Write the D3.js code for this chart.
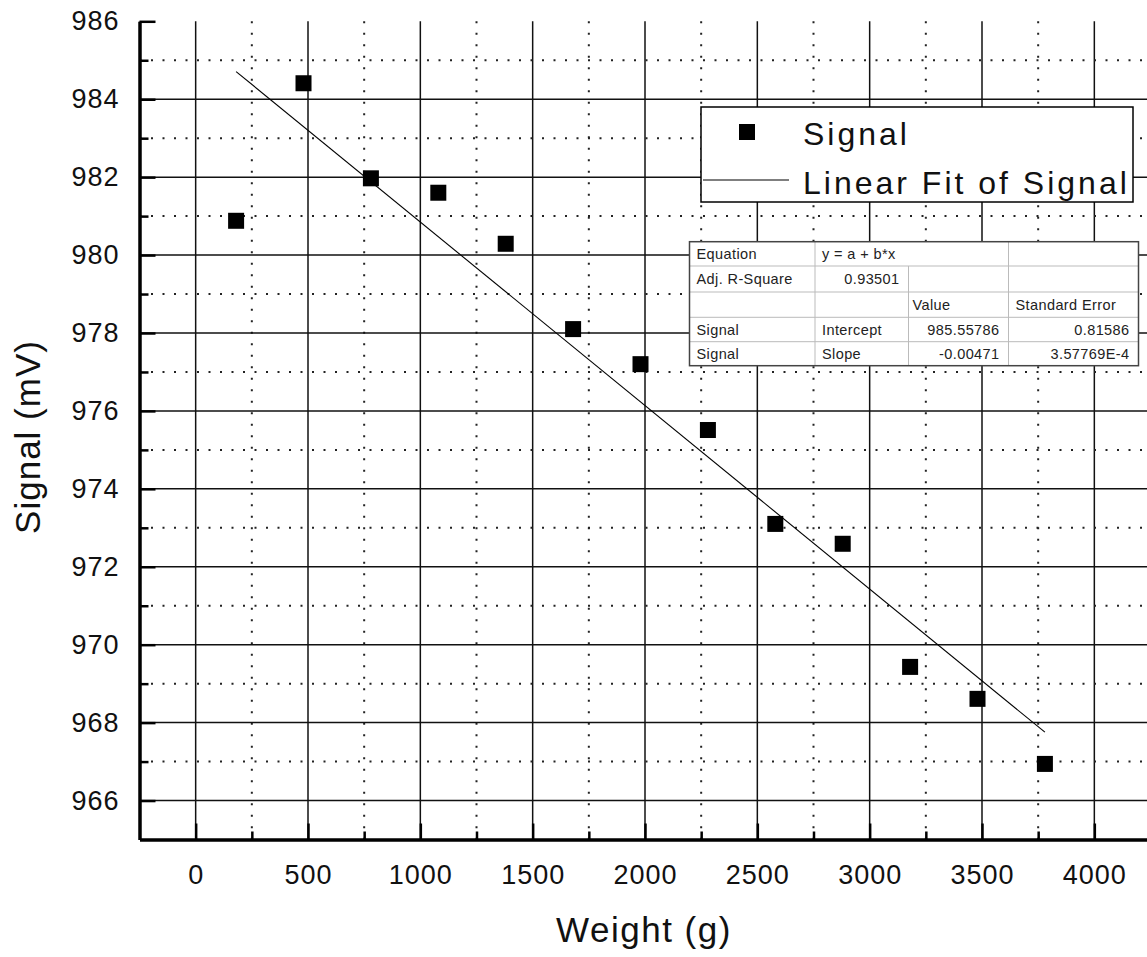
<!DOCTYPE html>
<html>
<head>
<meta charset="utf-8">
<script src="https://cdn.jsdelivr.net/npm/d3@7"></script>
<style>
  body { margin: 0; background: #fff; }
  svg { display: block; font-family: "Liberation Sans", Arial, sans-serif; }
</style>
</head>
<body>
<div id="chart"></div>
<script>
// data
const weights = [180, 480, 780, 1080, 1380, 1680, 1980, 2280, 2580, 2880, 3180, 3480, 3780];
const signals = [980.88, 984.41, 981.97, 981.60, 980.29, 978.10, 977.20, 975.51, 973.10, 972.59, 969.43, 968.61, 966.94];

// linear fit from the table
const fitIntercept = 985.55786;
const fitSlope = -0.00471;

const xMajor = [0, 500, 1000, 1500, 2000, 2500, 3000, 3500, 4000];
const xMinor = [250, 750, 1250, 1750, 2250, 2750, 3250, 3750, 4250];
const yMajor = [966, 968, 970, 972, 974, 976, 978, 980, 982, 984, 986];
const yMinor = [967, 969, 971, 973, 975, 977, 979, 981, 983, 985];

const legendLabels = ["Signal", "Linear Fit of Signal"];

const tableRows = [
  ["Equation", "y = a + b*x", "", ""],
  ["Adj. R-Square", "0.93501", "", ""],
  ["", "", "Value", "Standard Error"],
  ["Signal", "Intercept", "985.55786", "0.81586"],
  ["Signal", "Slope", "-0.00471", "3.57769E-4"]
];

const width = 1147, height = 957;

const svg = d3.select("#chart")
  .append("svg")
  .attr("width", width)
  .attr("height", height);

const x = d3.scaleLinear().domain([-250, 4250]).range([139.5, 1150.5]);
const y = d3.scaleLinear().domain([965, 986]).range([839.5, 21.3]);

const plotTop = y(986), plotBottom = y(965), plotLeft = x(-250), plotRight = x(4250);

// grid lines
const grid = svg.append("g");
grid.selectAll(".vmaj").data(xMajor).enter().append("line")
  .attr("x1", d => x(d)).attr("x2", d => x(d))
  .attr("y1", plotTop).attr("y2", plotBottom)
  .attr("stroke", "#111").attr("stroke-width", 1.5);
grid.selectAll(".vmin").data(xMinor).enter().append("line")
  .attr("x1", d => x(d)).attr("x2", d => x(d))
  .attr("y1", plotTop).attr("y2", plotBottom)
  .attr("stroke", "#222").attr("stroke-width", 2)
  .attr("stroke-dasharray", "2,9.5");
grid.selectAll(".hmaj").data(yMajor.filter(d => d < 986)).enter().append("line")
  .attr("x1", plotLeft).attr("x2", plotRight)
  .attr("y1", d => y(d)).attr("y2", d => y(d))
  .attr("stroke", "#111").attr("stroke-width", 1.5);
grid.selectAll(".hmin").data(yMinor).enter().append("line")
  .attr("x1", plotLeft).attr("x2", plotRight)
  .attr("y1", d => y(d)).attr("y2", d => y(d))
  .attr("stroke", "#222").attr("stroke-width", 2)
  .attr("stroke-dasharray", "2,9.5");

// fit line
const x0 = d3.min(weights), x1 = d3.max(weights);
svg.append("line")
  .attr("x1", x(x0)).attr("y1", y(fitIntercept + fitSlope * x0))
  .attr("x2", x(x1)).attr("y2", y(fitIntercept + fitSlope * x1))
  .attr("stroke", "#000").attr("stroke-width", 1.1);

// points
const ms = 16;
svg.selectAll(".pt")
  .data(weights.map((w, i) => ({ w: w, s: signals[i] })))
  .enter()
  .append("rect")
    .attr("x", d => x(d.w) - ms / 2)
    .attr("y", d => y(d.s) - ms / 2)
    .attr("width", ms)
    .attr("height", ms)
    .attr("fill", "#000");

// axes
function styleAxis(g) {
  g.select(".domain").attr("stroke", "#000").attr("stroke-width", 3);
  g.selectAll(".tick line").attr("stroke", "#000").attr("stroke-width", 2.5);
  g.selectAll(".tick text")
    .attr("fill", "#111")
    .style("font-size", "27px")
    .style("letter-spacing", "1px");
}

svg.append("g")
  .attr("transform", `translate(0,${plotBottom})`)
  .call(d3.axisBottom(x).tickValues(xMinor).tickSize(-8).tickSizeOuter(0).tickFormat(""))
  .call(styleAxis);
svg.append("g")
  .attr("transform", `translate(0,${plotBottom})`)
  .call(d3.axisBottom(x).tickValues(xMajor).tickSize(-16).tickSizeOuter(0)
    .tickPadding(25).tickFormat(d3.format("d")))
  .call(styleAxis);

svg.append("g")
  .attr("transform", `translate(${plotLeft},0)`)
  .call(d3.axisLeft(y).tickValues(yMinor).tickSize(-9).tickSizeOuter(0).tickFormat(""))
  .call(styleAxis);
svg.append("g")
  .attr("transform", `translate(${plotLeft},0)`)
  .call(d3.axisLeft(y).tickValues(yMajor).tickSize(-16).tickSizeOuter(0)
    .tickPadding(20).tickFormat(d3.format("d")))
  .call(styleAxis);

// axis titles
svg.append("text")
  .attr("x", 644).attr("y", 942)
  .attr("text-anchor", "middle")
  .style("font-size", "35px").style("letter-spacing", "1.5px")
  .attr("fill", "#111")
  .text("Weight (g)");

svg.append("text")
  .attr("transform", "translate(40,437) rotate(-90)")
  .attr("text-anchor", "middle")
  .style("font-size", "35px").style("letter-spacing", "1px")
  .attr("fill", "#111")
  .text("Signal (mV)");

// legend
const legend = svg.append("g");
legend.append("rect")
  .attr("x", 701).attr("y", 107).attr("width", 432).attr("height", 95)
  .attr("fill", "#fff").attr("stroke", "#000").attr("stroke-width", 1.5);
legend.append("rect")
  .attr("x", 739).attr("y", 124).attr("width", ms).attr("height", ms)
  .attr("fill", "#000");
legend.append("line")
  .attr("x1", 703).attr("x2", 789).attr("y1", 180).attr("y2", 180)
  .attr("stroke", "#000").attr("stroke-width", 1.2);
legend.selectAll(".lt").data(legendLabels).enter().append("text")
  .attr("x", 803)
  .attr("y", (d, i) => 145 + i * 49)
  .style("font-size", "32px").style("letter-spacing", "3px")
  .attr("fill", "#111")
  .text(d => d);

// fit table
const colX = [689.5, 815, 908.5, 1008.5, 1138.5];
const rowY = [241.7, 266, 292, 317.3, 341.7, 365.7];
const align = [["start", "start", "start", "start"],
               ["start", "end", "start", "start"],
               ["start", "start", "start", "start"],
               ["start", "start", "end", "end"],
               ["start", "start", "end", "end"]];

const table = svg.append("g");
table.append("rect")
  .attr("x", colX[0]).attr("y", rowY[0])
  .attr("width", colX[4] - colX[0]).attr("height", rowY[5] - rowY[0])
  .attr("fill", "#fff");

// inner row lines
table.selectAll(".rl").data(rowY.slice(1, 5)).enter().append("line")
  .attr("x1", colX[0]).attr("x2", colX[4])
  .attr("y1", d => d).attr("y2", d => d)
  .attr("stroke", "#bbb").attr("stroke-width", 1);
// inner column lines (row 1 spans columns 2-3)
[1, 2, 3].forEach(c => {
  table.append("line")
    .attr("x1", colX[c]).attr("x2", colX[c])
    .attr("y1", c === 2 ? rowY[1] : rowY[0]).attr("y2", rowY[5])
    .attr("stroke", "#bbb").attr("stroke-width", 1);
});
table.append("rect")
  .attr("x", colX[0]).attr("y", rowY[0])
  .attr("width", colX[4] - colX[0]).attr("height", rowY[5] - rowY[0])
  .attr("fill", "none").attr("stroke", "#444").attr("stroke-width", 1.5);

tableRows.forEach((row, r) => {
  row.forEach((cell, c) => {
    if (!cell) return;
    const a = align[r][c];
    table.append("text")
      .attr("x", a === "end" ? colX[c + 1] - 9 : colX[c] + (c === 2 ? 4 : 7))
      .attr("y", rowY[r] + 17.6)
      .attr("text-anchor", a)
      .style("font-size", "14.5px").style("letter-spacing", "0.4px")
      .attr("fill", "#222")
      .text(cell);
  });
});
</script>
</body>
</html>
